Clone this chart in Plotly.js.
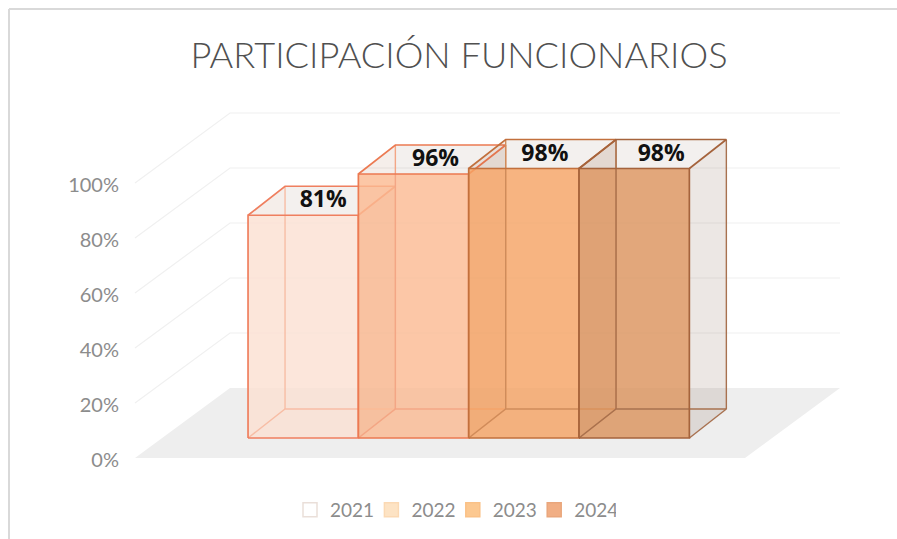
<!DOCTYPE html>
<html><head><meta charset="utf-8">
<script src="https://cdn.plot.ly/plotly-3.0.1.min.js"></script>
<style>html,body{margin:0;padding:0;background:#fff}#c{width:897px;height:539px}</style>
</head><body><div id="c"></div>
<script>
// ---- data ----
const years = ['2021','2022','2023','2024'];
const values = [81,96,98,98];
const yTicks = [0,20,40,60,80,100];
const yTickText = ['0%','20%','40%','60%','80%','100%'];
const titleText = 'PARTICIPACIÓN FUNCIONARIOS';
// ---- styles ----
const frontFill = ['rgba(253,226,212,.8)','rgba(252,188,148,.8)','rgba(246,164,100,.8)','rgba(220,148,92,.8)'];
const edgeStrong = ['#ef7f5f','#ec7a52','#c2703d','#a5633c'];
const edgeLight = ['#f7bda5','#f3a685','#cf8c5b','#a8714f'];
const legendFill = ['#ffffff','#fde3c4','#fcc890','#f1ae84'];
const legendLine = ['#eadfd9','#fbd9b4','#fac187','#e9a67c'];
// ---- oblique projection, in axis units ----
const PXX = 110.33, PXY = 2.75;         // px per x unit / per 1 % on y
const base = 20/PXY;                    // bars stand 20px above the floor's front edge
const dx = 37/PXX, dy = 29/PXY;         // bar depth
const fdx = 95/PXX, fdy = 70/PXY;       // floor depth
const fl = (135-303.2)/PXX, fr = (745-303.2)/PXX;
const labelShift = [20,22,21,27];       // px
const labelRise = [14,14,13,13];        // px
const traces = [];

// floor
traces.push({type:'scatter',mode:'lines',x:[fl,fr,fr+fdx,fl+fdx,fl],y:[0,0,fdy,fdy,0],fill:'toself',
  fillcolor:'#eeeeee',line:{width:0},hoverinfo:'skip',showlegend:false});
// walls' gridlines
const gx=[],gy=[];
yTicks.slice(1).forEach(v=>{gx.push(fl,fl+fdx,fr+fdx,null);gy.push(v,v+fdy,v+fdy,null);});
traces.push({type:'scatter',mode:'lines',x:gx,y:gy,line:{width:1.2,color:'#f0f0f0'},hoverinfo:'skip',showlegend:false});

// each bar's faces, painted back to front, then its edges
years.forEach((yr,i)=>{
  const L=i-.5,R=i+.5,B=base,T=base+values[i];
  const faces=[
    {c:'rgba(120,85,65,.055)',x:[L+dx,R+dx,R+dx,L+dx,L+dx],y:[B+dy,B+dy,T+dy,T+dy,B+dy]}, // back
    {c:'rgba(120,85,65,.05)', x:[L,R,R+dx,L+dx,L],y:[B,B,B+dy,B+dy,B]},                    // bottom
    {c:'rgba(190,100,60,.07)',x:[L,L+dx,L+dx,L,L],y:[B,B+dy,T+dy,T,B]},                    // left
    {c:'rgba(120,85,65,.09)', x:[R,R+dx,R+dx,R,R],y:[B,B+dy,T+dy,T,B]},                    // right
    {c:'rgba(120,85,65,.035)',x:[L,R,R+dx,L+dx,L],y:[T,T,T+dy,T+dy,T]},                    // top
    {c:frontFill[i],          x:[L,R,R,L,L],y:[B,B,T,T,B]}                                 // front
  ];
  faces.forEach(f=>traces.push({type:'scatter',mode:'lines',x:f.x,y:f.y,fill:'toself',fillcolor:f.c,
    line:{width:0},hoverinfo:'skip',showlegend:false}));
  traces.push({type:'scatter',mode:'lines',
    x:[L+dx,L+dx,null,R+dx,R+dx,null,L,L+dx,R+dx,null,R,R+dx],
    y:[T+dy,B+dy,null,T+dy,B+dy,null,B,B+dy,B+dy,null,B,B+dy],
    line:{width:1.4,color:edgeLight[i]},hoverinfo:'skip',showlegend:false});
  traces.push({type:'scatter',mode:'lines',
    x:[L,R,R,L,L,null,L,L+dx,R+dx,R,null],
    y:[B,B,T,T,B,null,T,T+dy,T+dy,T,null],
    line:{width:1.7,color:edgeStrong[i]},hoverinfo:'skip',showlegend:false});
});

// data labels
traces.push({type:'scatter',mode:'text',
  x:values.map((v,i)=>i+labelShift[i]/PXX),
  y:values.map((v,i)=>base+v+labelRise[i]/PXY),
  text:values.map(v=>v+'%'),textposition:'middle center',
  textfont:{family:'"Open Sans","DejaVu Sans",sans-serif',size:23,color:'#111111',weight:700,stretch:'condensed'},
  hoverinfo:'skip',showlegend:false});

// legend entries
years.forEach((yr,i)=>traces.push({type:'scatter',mode:'markers',x:[null],y:[null],name:yr,
  marker:{symbol:'square',size:14,color:legendFill[i],line:{width:1.5,color:legendLine[i]}},hoverinfo:'skip'}));

const layout={
  width:897,height:539,margin:{l:120,r:0,t:0,b:0},paper_bgcolor:'#fff',plot_bgcolor:'rgba(0,0,0,0)',
  showlegend:true,hovermode:false,
  title:{text:titleText,x:459/897,xanchor:'center',y:1-55/539,yanchor:'middle',
    font:{family:'"Lato Light",Lato,sans-serif',size:36.2,color:'#505050',weight:300}},
  xaxis:{range:[(120-303.2)/PXX,(897-303.2)/PXX],visible:false,fixedrange:true},
  yaxis:{range:[-(539-458)/PXY,458/PXY],tickmode:'array',tickvals:yTicks,ticktext:yTickText,
    showgrid:false,zeroline:false,showline:false,ticks:'',fixedrange:true,ticklabelshift:2,
    tickfont:{family:'Lato,sans-serif',size:20,color:'#8c8c8c'}},
  legend:{orientation:'h',x:(290-120)/777,xanchor:'left',y:1-510/539,yanchor:'middle',
    entrywidth:36.4,entrywidthmode:'pixels',itemwidth:30,traceorder:'normal',
    font:{family:'Lato,sans-serif',size:19,color:'#8c8c8c'},bgcolor:'rgba(0,0,0,0)'},
  shapes:[
    {type:'line',xref:'paper',yref:'paper',x0:-111/777,x1:1,y0:1-9/539,y1:1-9/539,line:{color:'#d9d9d9',width:2}},
    {type:'line',xref:'paper',yref:'paper',x0:-111/777,x1:-111/777,y0:0,y1:1-9/539,line:{color:'#d9d9d9',width:2}}
  ]
};
Plotly.newPlot('c',traces,layout,{displayModeBar:false,staticPlot:true});
</script></body></html>
